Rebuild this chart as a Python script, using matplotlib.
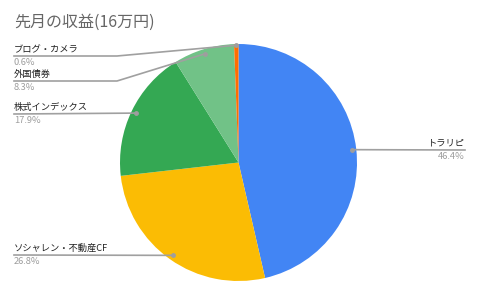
import numpy as np
import matplotlib.pyplot as plt

plt.rcParams['font.family'] = ['Noto Sans CJK JP', 'DejaVu Sans']

# data
labels = ["トラリピ", "ソシャレン・不動産CF", "株式インデックス", "外国債券", "ブログ・カメラ"]
shares = [46.4, 26.8, 17.9, 8.3, 0.6]
colors = ["#4285F4", "#FBBC04", "#34A853", "#71C287", "#FF6D01"]
title = "先月の収益(16万円)"

W, H = 480, 297
fig = plt.figure(figsize=(4.8, 2.97), dpi=100)
ax = fig.add_axes([0, 0, 1, 1])

cx, cy, R = 238.5, H - 162.5, 118.5
wedges, _ = ax.pie(shares, colors=colors, startangle=90, counterclock=False,
                   center=(cx, cy), radius=R, wedgeprops=dict(linewidth=0))

ax.set_xlim(0, W)
ax.set_ylim(0, H)
ax.set_aspect('equal')
ax.axis('off')

ax.text(14, H - 22, title, fontsize=11.5, color='#666666', ha='left', va='center')

# label line heights (image pixels from top) and elbow x
label_y = [150, 255, 114, 81, 56]
elbow_x = [None, None, None, 117, 117]
line_c = '#a0a0a0'

for i, w in enumerate(wedges):
    mid = np.deg2rad((w.theta1 + w.theta2) / 2)
    r = 0.96 * R if shares[i] > 1 else 0.99 * R
    px, py = cx + r * np.cos(mid), cy + r * np.sin(mid)
    ly = H - label_y[i]
    if i == 0:
        ax.plot([px, 465], [py, ly], color=line_c, lw=1.2)
        ax.text(465, ly + 2, labels[i], fontsize=6.7, color='#222222', ha='right', va='bottom')
        ax.text(465, ly - 2, f"{shares[i]}%", fontsize=6.7, color='#9e9e9e', ha='right', va='top')
    else:
        if elbow_x[i] is None:
            xs, ys = [14, px], [ly, py]
        else:
            xs, ys = [14, elbow_x[i], px], [ly, ly, py]
        ax.plot(xs, ys, color=line_c, lw=1.2)
        ax.text(14, ly + 2, labels[i], fontsize=6.7, color='#222222', ha='left', va='bottom')
        ax.text(14, ly - 2, f"{shares[i]}%", fontsize=6.7, color='#9e9e9e', ha='left', va='top')
    ax.plot(px, py, 'o', color='#9e9e9e', ms=2.5)

fig.savefig('out.png', dpi=100)
